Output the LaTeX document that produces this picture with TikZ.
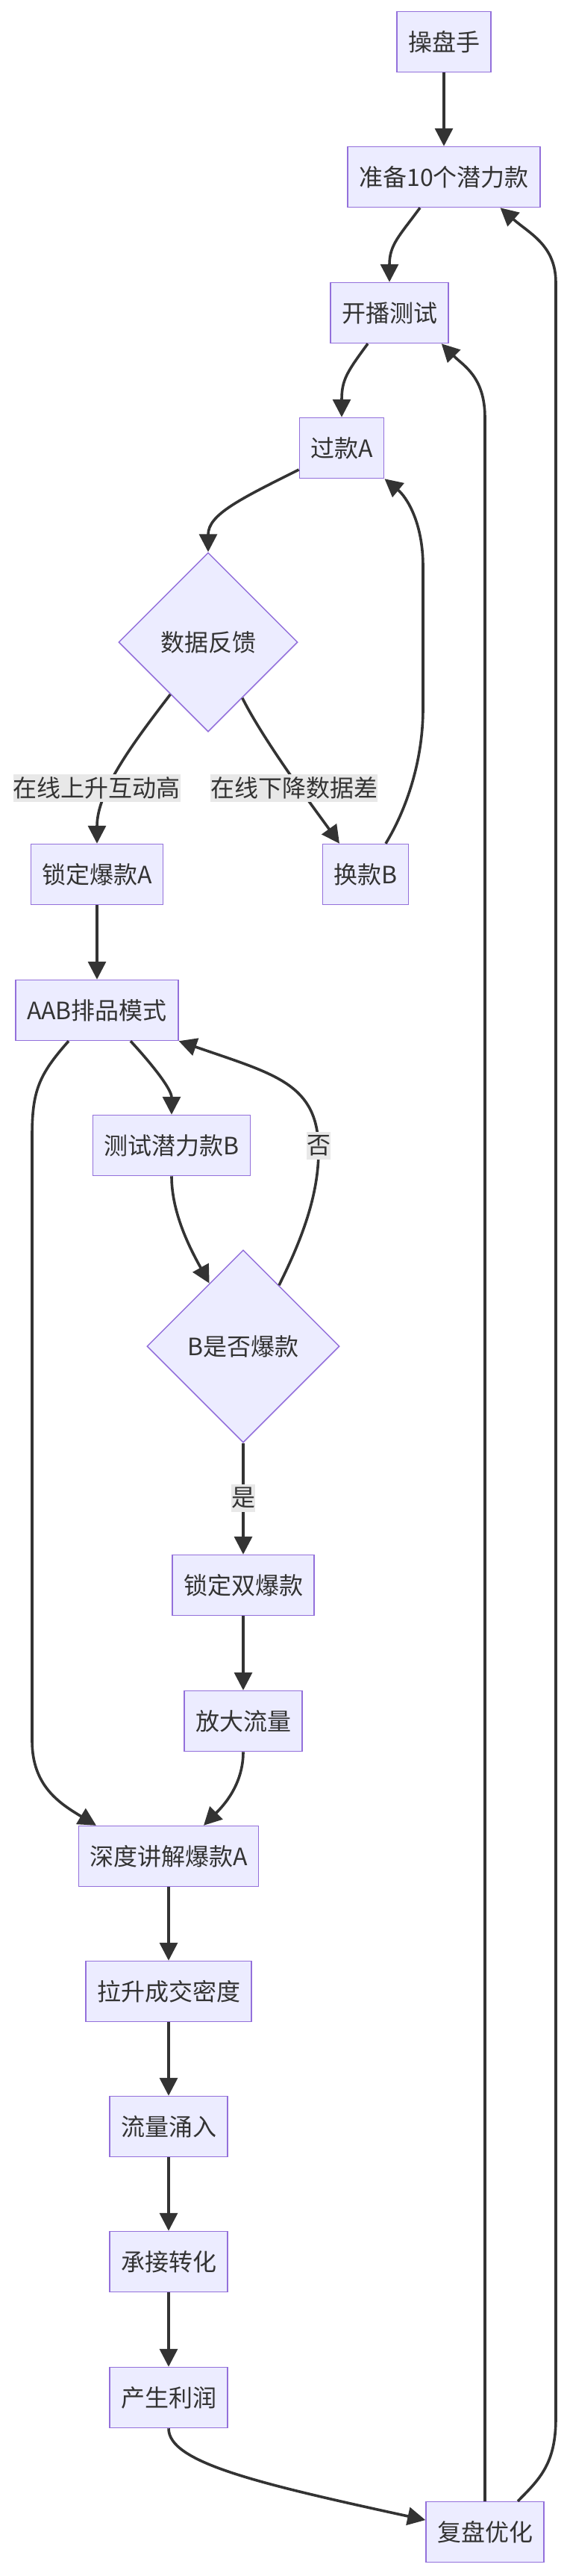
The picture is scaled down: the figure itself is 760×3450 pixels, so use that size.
\documentclass[tikz,border=0pt]{standalone}
\usepackage{fontspec}
\setmainfont{Noto Sans CJK SC}
\usetikzlibrary{arrows.meta,shapes.geometric,calc}
\definecolor{flowFill}{HTML}{ECECFF}
\definecolor{flowStroke}{HTML}{9370DB}
\definecolor{flowInk}{HTML}{333333}
\definecolor{flowEdge}{HTML}{333333}
\definecolor{flowLabelBg}{HTML}{E8E8E8}
\tikzset{
  flow font/.style={font=\fontsize{16pt}{19pt}\selectfont, text=flowInk},
  flow box/.style={flow font, draw=flowStroke, fill=flowFill, line width=0.75pt, minimum height=40.5pt, inner xsep=7.5pt, inner ysep=0pt},
  flow decision/.style={flow font, diamond, draw=flowStroke, fill=flowFill, line width=0.75pt, inner sep=0pt, aspect=1},
  flow edge/.style={draw=flowEdge, line width=1.8pt, -{Triangle[length=12pt,width=12pt]}},
  flow label/.style={flow font, fill=flowLabelBg, inner sep=0pt, minimum height=18.5pt},
}

\begin{document}
\begin{tikzpicture}[x=0.5pt, y=-0.5pt]
  \useasboundingbox (0,0) rectangle (760,3450);

  % Boxes and decisions, top to bottom
  \node[flow box] (host)    at (595,56)   {操盘手};
  \node[flow box] (prep)    at (595,237)  {准备10个潜力款};
  \node[flow box] (live)    at (522,419)  {开播测试};
  \node[flow box] (passA)   at (458,600)  {过款A};
  \node[flow decision, minimum size=120pt] (feedback) at (279,860) {数据反馈};
  \node[flow box] (lockA)   at (130,1171) {锁定爆款A};
  \node[flow box] (swapB)   at (490,1171) {换款B};
  \node[flow box] (aab)     at (130,1353) {AAB排品模式};
  \node[flow box] (testB)   at (230,1534) {测试潜力款B};
  \node[flow decision, minimum size=129pt] (isHit) at (326,1803) {B是否爆款};
  \node[flow box] (lockAB)  at (326,2123) {锁定双爆款};
  \node[flow box] (boost)   at (326,2305) {放大流量};
  \node[flow box] (deepA)   at (226,2486) {深度讲解爆款A};
  \node[flow box] (density) at (226,2667) {拉升成交密度};
  \node[flow box] (inflow)  at (226,2848) {流量涌入};
  \node[flow box] (convert) at (226,3029) {承接转化};
  \node[flow box] (profit)  at (226,3211) {产生利润};
  \node[flow box] (review)  at (650,3391) {复盘优化};

  % Main chain
  \draw[flow edge] (host) -- (prep);
  \draw[flow edge] ($(prep.south)+(-32,0)$) .. controls +(-28,38) and +(0,-50) .. (live.north);
  \draw[flow edge] ($(live.south)+(-29,0)$) .. controls +(-28,38) and +(0,-50) .. (passA.north);
  \draw[flow edge] ($(passA.west)+(0,29)$) .. controls +(-80,40) and +(0,-50) .. (feedback.north);

  % Feedback split
  \draw[flow edge] ($(feedback.west)!0.58!(feedback.south)$) .. controls +(-50,65) and +(0,-70) .. (lockA.north);
  \draw[flow edge] ($(feedback.east)!0.62!(feedback.south)$) .. controls +(30,60) and +(-25,-35) .. ($(swapB.north)+(-35,0)$);
  \draw[flow edge] ($(swapB.north)+(27,0)$) .. controls +(28,-46) and +(0,70) .. ++(50,-181)
    -- ++(0,-190) .. controls +(0,-60) and +(29,24) .. (passA.south east);

  % AAB loop
  \draw[flow edge] (lockA) -- (aab);
  \draw[flow edge] ($(aab.south)+(45,0)$) .. controls +(25,27) and +(0,-35) .. (testB.north);
  \draw[flow edge] (testB.south) .. controls +(0,50) and +(-25,-45) .. ($(isHit.north)!0.35!(isHit.west)$);
  \draw[flow edge] ($(isHit.north)!0.37!(isHit.east)$) .. controls +(30,-60) and +(0,60) .. ++(53,-180)
    .. controls +(0,-90) and +(130,45) .. (aab.south east);
  \draw[flow edge] (isHit) -- (lockAB);
  \draw[flow edge] (lockAB) -- (boost);
  \draw[flow edge] (boost.south) .. controls +(0,45) and +(25,-25) .. ($(deepA.north)+(47,0)$);
  \draw[flow edge] ($(aab.south)+(-38,0)$) .. controls +(-40,45) and +(0,-60) .. ++(-49,127)
    -- ++(0,810) .. controls +(0,60) and +(-50,-30) .. ($(deepA.north)+(-97,0)$);

  % Conversion chain
  \draw[flow edge] (deepA) -- (density);
  \draw[flow edge] (density) -- (inflow);
  \draw[flow edge] (inflow) -- (convert);
  \draw[flow edge] (convert) -- (profit);
  \draw[flow edge] (profit.south) .. controls +(0,45) and +(-230,-50) .. ($(review.west)+(0,-16)$);

  % Review feeds back to the top
  \draw[flow edge] (review.north) -- ++(0,-2790) .. controls +(0,-55) and +(30,30) .. ($(live.south east)+(-10,0)$);
  \draw[flow edge] ($(review.north)+(44,0)$) .. controls +(30,-30) and +(0,60) .. ++(51,-111)
    -- ++(0,-2860) .. controls +(0,-50) and +(40,35) .. ($(prep.south east)+(-54,0)$);

  % Edge labels
  \node[flow label] (lblUp)   at (130,1055) {在线上升互动高};
  \node[flow label] (lblDown) at (394,1055) {在线下降数据差};
  \node[flow label] (lblNo)   at (427,1534) {否};
  \node[flow label] (lblYes)  at (326,2006) {是};
\end{tikzpicture}
\end{document}
